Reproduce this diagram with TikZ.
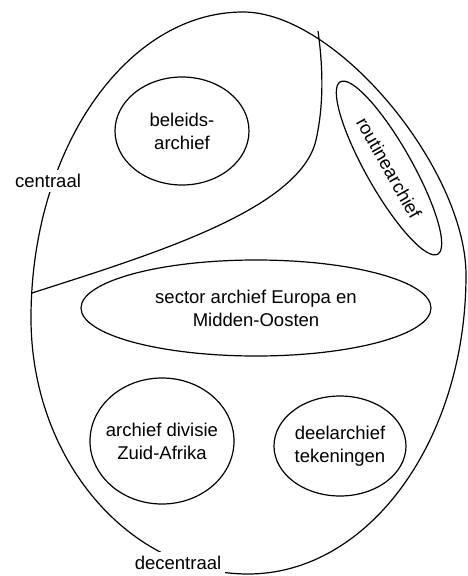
\documentclass[tikz,border=0pt]{standalone}
\usepackage{fontspec}
\setmainfont{Liberation Sans}
\usetikzlibrary{shapes.geometric}

\tikzset{
  line/.style={line width=1.2pt, black},
  archive/.style={shape=ellipse, draw, line width=1.2pt, inner sep=0pt,
    align=center, font=\fontsize{18.5}{23}\selectfont},
  zone/.style={fill=white, inner sep=4pt, font=\fontsize{18.5}{23}\selectfont}
}

\begin{document}
\begin{tikzpicture}[x=1pt, y=-1pt]
  \useasboundingbox (0,0) rectangle (468,576);

  % outer boundary of the whole organisation
  \draw[line] (243,12) .. controls (337.5,12) and (466,170) .. (466,275)
    .. controls (466,440) and (369,574) .. (248,574)
    .. controls (128.6,574) and (31,459) .. (31,318)
    .. controls (31,150) and (126,12) .. (243,12) -- cycle;

  % border between the central and the decentral part
  \coordinate (divL) at (32,293);
  \coordinate (divM) at (316,140);
  \coordinate (divT) at (318,31);
  \draw[line] (divL) .. controls (150,255) and (300,210) .. (divM)
    .. controls (325,100) and (322,60) .. (divT);

  % archives
  \node[archive, minimum width=134pt, minimum height=108pt] (beleid)
    at (182,131) {beleids-\\archief};
  \node[archive, minimum width=198pt, minimum height=46pt, rotate=-60.5] (routine)
    at (389,168) {routinearchief};
  \node[archive, minimum width=350pt, minimum height=96pt] (sector)
    at (256,308) {sector archief Europa en\\Midden-Oosten};
  \node[archive, minimum width=144pt, minimum height=126pt, inner xsep=-9pt] (zuid)
    at (162,441) {archief divisie\\Zuid-Afrika};
  \node[archive, minimum width=132pt, minimum height=100pt, inner xsep=-4pt] (deel)
    at (340,446) {deelarchief\\tekeningen};

  % zone labels, set into the outer boundary
  \node[zone] (centraal) at (48,181) {centraal};
  \node[zone] (decentraal) at (178,563) {decentraal};
\end{tikzpicture}
\end{document}
